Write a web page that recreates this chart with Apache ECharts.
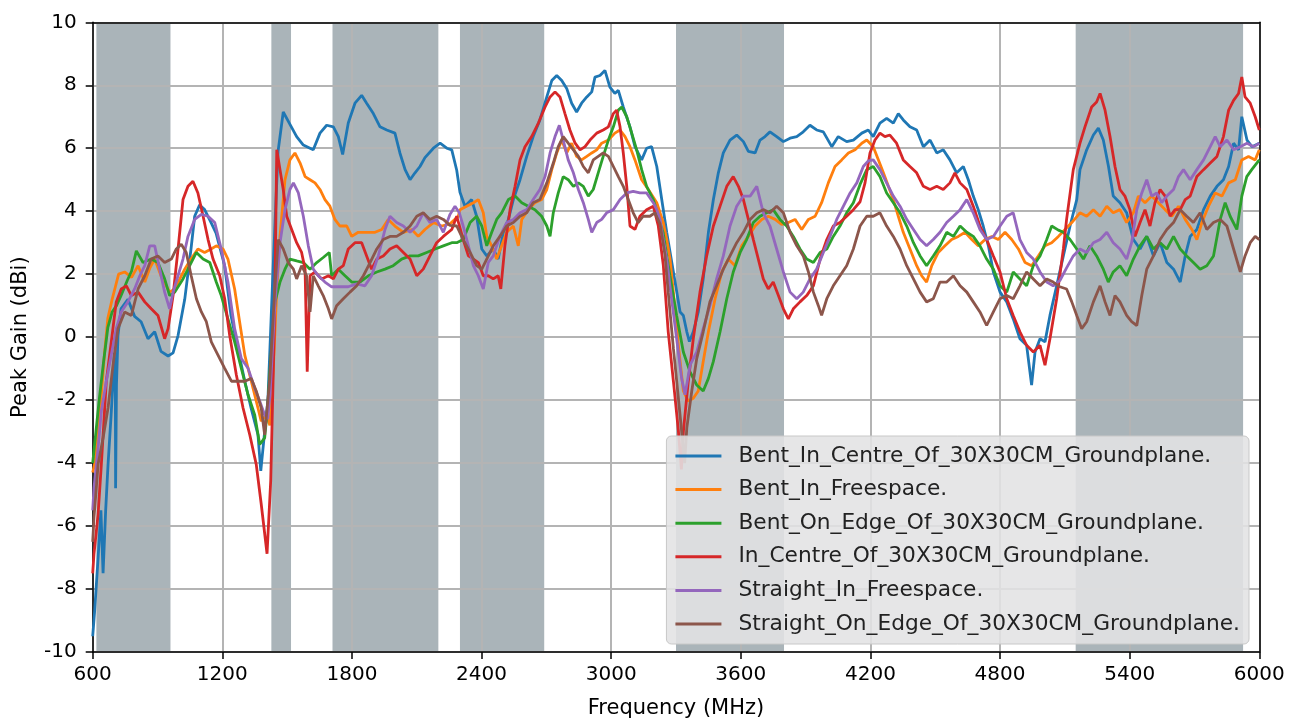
<!DOCTYPE html>
<html><head><meta charset="utf-8">
<script src="https://cdn.jsdelivr.net/npm/echarts@6/dist/echarts.min.js"></script>
<style>html,body{margin:0;padding:0;background:#fff}#c{width:1301px;height:724px}</style>
</head><body><div id="c"></div>
<script>
const seriesNames = [
  'Bent_In_Centre_Of_30X30CM_Groundplane.',
  'Bent_In_Freespace.',
  'Bent_On_Edge_Of_30X30CM_Groundplane.',
  'In_Centre_Of_30X30CM_Groundplane.',
  'Straight_In_Freespace.',
  'Straight_On_Edge_Of_30X30CM_Groundplane.'
];
const seriesColors = ['#1f77b4','#ff7f0e','#2ca02c','#d62728','#9467bd','#8c564b'];
const bands = [[617,960],[1427,1518],[1710,2200],[2300,2690],[3300,3800],[5150,5925]];
const xMin = 600, xMax = 6000, xStep = 600;
const yMin = -10, yMax = 10, yStep = 2;

const bentInCentre = [[600,-9.5],[609,-8.7],[625,-7.0],[638,-5.5],[648,-7.5],[660,-5.5],[671,-4.05],[685,-2.5],[694,-1.4],[700,-0.5],[705,-1.8],[706,-4.8],[710,-1.5],[717,0.05],[731,0.9],[763,1.2],[794,0.66],[824,0.49],[856,-0.05],[887,0.17],[916,-0.45],[949,-0.6],[972,-0.5],[995,0.05],[1026,1.2],[1055,2.8],[1072,3.84],[1095,4.2],[1118,4.05],[1148,3.64],[1171,3.3],[1211,2.26],[1240,0.69],[1272,-0.36],[1304,-1.4],[1333,-2.25],[1365,-3.1],[1378,-4.25],[1396,-3.0],[1411,-2.0],[1434,2.0],[1458,5.9],[1482,7.15],[1510,6.8],[1544,6.37],[1575,6.1],[1606,6.0],[1621,5.95],[1652,6.48],[1683,6.73],[1714,6.68],[1737,6.37],[1757,5.8],[1783,6.8],[1814,7.43],[1845,7.68],[1868,7.43],[1899,7.1],[1930,6.68],[1961,6.58],[1999,6.48],[2022,5.85],[2046,5.32],[2069,5.0],[2092,5.22],[2115,5.42],[2138,5.7],[2177,6.0],[2208,6.16],[2239,6.0],[2262,5.95],[2285,5.3],[2300,4.6],[2323,4.16],[2354,4.37],[2377,3.84],[2401,2.8],[2424,2.58],[2454,2.8],[2477,2.48],[2501,3.33],[2524,3.74],[2547,4.37],[2578,5.0],[2609,5.74],[2639,6.37],[2670,6.9],[2702,7.63],[2725,8.15],[2748,8.31],[2771,8.15],[2794,7.9],[2817,7.43],[2840,7.15],[2863,7.43],[2887,7.63],[2910,7.79],[2925,8.26],[2948,8.31],[2971,8.47],[2994,7.94],[3017,7.74],[3033,7.84],[3056,7.31],[3087,6.68],[3110,6.05],[3141,5.63],[3164,6.0],[3187,6.05],[3211,5.42],[3234,4.37],[3257,3.33],[3288,2.07],[3319,0.8],[3334,0.69],[3350,0.17],[3362,-0.14],[3380,0.17],[3403,0.8],[3426,1.85],[3450,3.33],[3473,4.37],[3496,5.22],[3519,5.85],[3550,6.26],[3581,6.42],[3612,6.21],[3635,5.9],[3666,5.85],[3689,6.26],[3712,6.37],[3735,6.52],[3766,6.37],[3797,6.21],[3828,6.32],[3859,6.37],[3889,6.52],[3920,6.73],[3951,6.58],[3982,6.52],[4021,6.05],[4051,6.37],[4090,6.21],[4121,6.26],[4160,6.48],[4190,6.58],[4213,6.37],[4244,6.8],[4275,6.95],[4306,6.8],[4329,7.1],[4352,6.9],[4383,6.68],[4414,6.58],[4445,6.05],[4476,6.26],[4507,5.85],[4537,5.95],[4568,5.63],[4599,5.22],[4630,5.42],[4653,5.0],[4676,4.48],[4699,4.05],[4722,3.53],[4746,2.9],[4769,2.07],[4800,1.43],[4831,1.12],[4861,0.58],[4892,-0.05],[4923,-0.26],[4946,-1.52],[4962,-0.47],[4985,-0.05],[5008,-0.15],[5031,0.69],[5062,1.63],[5093,2.58],[5124,3.53],[5155,4.37],[5170,5.32],[5201,5.95],[5232,6.42],[5255,6.64],[5278,6.26],[5302,5.42],[5324,4.48],[5355,4.27],[5386,3.95],[5417,3.1],[5448,2.8],[5479,3.2],[5510,2.58],[5541,3.0],[5572,2.37],[5603,2.16],[5634,1.75],[5657,2.58],[5680,3.2],[5711,3.42],[5742,4.05],[5773,4.48],[5804,4.79],[5834,5.0],[5858,5.42],[5881,6.16],[5904,5.95],[5919,7.0],[5943,6.26],[5966,6.05],[6000,6.16]];

const bentInFreespace = [[600,-4.3],[610,-4.0],[625,-3.0],[640,-1.8],[655,-0.5],[670,0.6],[690,1.2],[705,1.6],[720,2.0],[748,2.07],[780,1.9],[810,2.27],[841,1.75],[865,2.2],[887,2.48],[916,1.95],[956,1.43],[980,1.53],[1026,2.16],[1055,2.48],[1087,2.8],[1118,2.69],[1148,2.8],[1172,2.9],[1203,2.8],[1226,2.48],[1257,1.53],[1280,0.49],[1304,-0.57],[1334,-1.4],[1365,-2.25],[1380,-2.67],[1404,-2.47],[1420,-2.8],[1436,-1.0],[1452,1.5],[1467,3.2],[1490,5.0],[1513,5.63],[1536,5.85],[1560,5.53],[1583,5.1],[1606,5.0],[1629,4.9],[1652,4.69],[1675,4.37],[1698,4.16],[1721,3.74],[1744,3.53],[1776,3.53],[1799,3.2],[1829,3.33],[1868,3.33],[1907,3.33],[1938,3.42],[1968,3.74],[1999,3.53],[2038,3.33],[2077,3.42],[2107,3.2],[2138,3.42],[2177,3.64],[2215,3.53],[2254,3.6],[2292,3.84],[2300,4.05],[2331,4.16],[2362,4.27],[2385,4.37],[2408,3.95],[2424,3.2],[2447,2.9],[2470,2.48],[2493,2.9],[2516,3.33],[2547,3.53],[2570,2.9],[2586,3.74],[2616,4.05],[2647,4.27],[2678,4.37],[2702,4.69],[2725,5.32],[2748,5.85],[2771,6.26],[2794,5.85],[2817,6.16],[2840,5.74],[2863,5.63],[2887,5.74],[2910,5.85],[2933,5.95],[2956,6.16],[2987,6.26],[3017,6.48],[3041,6.58],[3064,6.37],[3087,6.05],[3110,5.63],[3141,5.0],[3172,4.69],[3211,4.27],[3241,3.64],[3257,3.1],[3272,2.5],[3288,1.43],[3311,-0.26],[3334,-1.71],[3357,-2.03],[3380,-1.94],[3403,-1.71],[3426,-0.77],[3450,0.17],[3481,1.22],[3512,2.07],[3542,2.48],[3573,2.27],[3604,2.9],[3635,3.2],[3666,3.53],[3697,3.74],[3727,3.84],[3759,3.74],[3789,3.58],[3820,3.64],[3851,3.74],[3882,3.42],[3913,3.74],[3944,3.84],[3974,4.27],[4005,4.9],[4036,5.42],[4067,5.63],[4098,5.85],[4129,5.95],[4160,6.16],[4183,6.26],[4213,6.05],[4237,5.63],[4260,5.22],[4283,4.79],[4306,4.37],[4329,3.84],[4352,3.33],[4383,2.8],[4414,2.27],[4437,1.95],[4460,1.75],[4484,2.27],[4514,2.69],[4545,2.9],[4576,3.1],[4607,3.2],[4638,3.33],[4669,3.1],[4699,2.9],[4731,3.1],[4762,3.2],[4792,3.1],[4823,3.33],[4854,3.1],[4885,2.8],[4916,2.37],[4946,2.27],[4977,2.58],[5008,2.9],[5039,3.0],[5070,3.2],[5101,3.42],[5132,3.64],[5170,3.95],[5201,3.84],[5232,4.05],[5263,3.84],[5294,4.16],[5324,3.95],[5355,4.05],[5386,3.64],[5417,3.95],[5440,4.48],[5471,4.27],[5502,4.48],[5533,4.27],[5564,4.05],[5595,3.84],[5626,4.16],[5657,3.74],[5688,3.42],[5711,3.1],[5734,3.64],[5765,4.16],[5796,4.58],[5827,4.48],[5858,4.9],[5889,5.0],[5919,5.63],[5950,5.74],[5981,5.63],[6000,5.95]];

const bentOnEdge = [[600,-4.0],[615,-3.0],[630,-2.0],[650,-0.8],[670,0.3],[690,0.8],[710,1.0],[730,1.3],[760,1.8],[780,2.1],[802,2.74],[833,2.37],[871,2.48],[902,2.37],[933,1.85],[956,1.32],[980,1.43],[1018,1.85],[1049,2.27],[1080,2.69],[1111,2.48],[1142,2.37],[1172,1.75],[1195,1.32],[1226,0.58],[1257,-0.15],[1288,-0.99],[1319,-1.83],[1350,-2.47],[1373,-3.41],[1396,-3.2],[1410,-2.2],[1421,-1.0],[1444,1.12],[1467,1.75],[1490,2.16],[1513,2.48],[1544,2.42],[1575,2.37],[1606,2.16],[1637,2.37],[1667,2.53],[1695,2.69],[1706,1.95],[1737,2.16],[1768,1.95],[1799,1.75],[1837,1.75],[1876,1.95],[1915,2.07],[1953,2.16],[1991,2.27],[2030,2.48],[2069,2.58],[2107,2.58],[2146,2.69],[2185,2.8],[2223,2.9],[2262,3.0],[2285,3.0],[2315,3.1],[2347,3.64],[2377,3.84],[2401,3.53],[2424,2.9],[2447,3.33],[2470,3.74],[2493,3.95],[2524,4.37],[2555,4.48],[2586,4.27],[2616,4.16],[2647,4.05],[2678,3.84],[2702,3.53],[2717,3.2],[2732,3.95],[2755,4.58],[2778,5.1],[2801,5.0],[2825,4.79],[2848,4.9],[2871,4.79],[2894,4.48],[2917,4.69],[2940,5.22],[2963,5.74],[2987,6.26],[3010,6.68],[3033,7.21],[3049,7.31],[3072,7.0],[3095,6.48],[3118,5.95],[3141,5.32],[3164,4.79],[3195,4.37],[3218,3.84],[3241,3.3],[3272,1.95],[3303,0.69],[3334,-0.47],[3365,-1.1],[3396,-1.52],[3426,-1.71],[3450,-1.31],[3473,-0.77],[3504,0.17],[3535,1.22],[3565,2.07],[3597,2.69],[3627,3.1],[3658,3.64],[3689,3.84],[3720,3.95],[3750,4.05],[3781,3.74],[3812,3.53],[3843,3.2],[3874,2.8],[3905,2.48],[3936,2.37],[3967,2.69],[3998,2.8],[4028,3.2],[4059,3.53],[4090,3.95],[4121,4.27],[4152,4.85],[4183,5.32],[4213,5.42],[4244,5.1],[4275,4.58],[4306,4.27],[4337,3.95],[4368,3.53],[4399,3.0],[4430,2.58],[4460,2.27],[4491,2.58],[4522,2.9],[4553,3.33],[4584,3.2],[4615,3.53],[4646,3.33],[4676,3.2],[4707,2.9],[4738,2.48],[4769,2.16],[4800,1.63],[4831,1.43],[4861,2.07],[4892,1.85],[4923,1.63],[4954,2.27],[4985,2.58],[5016,3.1],[5039,3.53],[5070,3.4],[5093,3.33],[5124,3.1],[5155,2.8],[5186,2.48],[5216,2.9],[5247,2.58],[5278,2.16],[5301,1.75],[5324,2.07],[5355,2.27],[5386,1.95],[5417,2.48],[5448,2.9],[5479,3.2],[5510,2.8],[5541,3.0],[5572,2.8],[5603,3.2],[5634,2.8],[5664,2.58],[5695,2.37],[5726,2.16],[5757,2.27],[5788,2.58],[5819,3.74],[5842,4.27],[5865,3.84],[5896,3.42],[5919,4.48],[5942,5.1],[5965,5.32],[6000,5.63]];

const inCentre = [[600,-7.5],[606,-6.88],[625,-5.62],[640,-4.04],[663,-1.4],[686,-0.15],[709,1.12],[732,1.53],[756,1.63],[779,1.32],[810,1.43],[841,1.12],[871,0.9],[902,0.69],[933,-0.05],[949,0.27],[972,1.32],[995,2.8],[1018,4.37],[1041,4.79],[1064,4.95],[1087,4.58],[1111,3.84],[1134,3.1],[1157,2.48],[1188,1.95],[1211,1.22],[1234,0.06],[1265,-1.2],[1296,-2.25],[1327,-3.1],[1357,-4.04],[1380,-5.3],[1407,-6.88],[1424,-4.56],[1442,0.69],[1452,5.95],[1467,5.32],[1482,4.69],[1498,3.84],[1521,3.42],[1544,3.0],[1567,2.69],[1583,2.16],[1593,-1.1],[1606,1.95],[1629,2.07],[1660,1.85],[1691,1.95],[1714,1.85],[1737,2.16],[1760,2.27],[1783,2.8],[1814,3.0],[1845,3.0],[1868,2.58],[1891,2.16],[1915,2.48],[1945,2.58],[1976,2.8],[2007,2.9],[2038,2.69],[2069,2.48],[2100,1.95],[2130,2.16],[2161,2.58],[2192,3.0],[2223,3.2],[2262,3.42],[2285,3.84],[2315,3.1],[2339,2.58],[2362,2.48],[2385,2.37],[2408,1.95],[2431,1.95],[2454,1.85],[2477,1.95],[2489,1.53],[2508,2.9],[2532,4.05],[2555,4.79],[2578,5.63],[2601,6.05],[2632,6.37],[2663,6.8],[2694,7.31],[2717,7.63],[2740,7.79],[2763,7.63],[2786,7.1],[2809,6.58],[2833,6.16],[2856,5.95],[2879,6.05],[2902,6.26],[2933,6.48],[2963,6.58],[2987,6.68],[3010,7.1],[3025,7.21],[3041,6.68],[3056,5.85],[3072,4.79],[3087,3.53],[3110,3.42],[3133,3.84],[3164,4.05],[3195,4.16],[3218,3.53],[3241,2.3],[3264,0.17],[3288,-1.4],[3311,-2.98],[3325,-4.2],[3334,-3.0],[3357,-1.4],[3380,-0.05],[3411,1.43],[3442,2.58],[3473,3.53],[3504,4.16],[3535,4.79],[3565,5.1],[3589,4.79],[3612,4.37],[3635,3.74],[3658,3.1],[3681,2.48],[3704,1.85],[3727,1.53],[3750,1.75],[3774,1.32],[3797,0.9],[3820,0.58],[3843,0.9],[3874,1.12],[3905,1.32],[3936,1.63],[3967,2.48],[3998,3.1],[4028,3.53],[4059,3.64],[4090,3.84],[4121,4.05],[4152,4.3],[4175,4.9],[4198,5.85],[4221,6.26],[4244,6.48],[4267,6.37],[4290,6.42],[4321,6.16],[4352,5.63],[4383,5.42],[4414,5.22],[4445,4.79],[4476,4.69],[4507,4.79],[4537,4.69],[4568,4.9],[4591,5.22],[4615,4.9],[4646,4.69],[4676,4.16],[4707,3.53],[4738,3.1],[4769,2.58],[4800,2.07],[4831,1.22],[4861,0.69],[4892,0.17],[4923,-0.26],[4954,-0.47],[4985,-0.26],[5008,-0.89],[5031,-0.05],[5062,1.22],[5093,2.8],[5108,3.74],[5139,5.32],[5170,6.16],[5193,6.68],[5224,7.31],[5247,7.47],[5263,7.74],[5286,7.21],[5309,6.37],[5332,5.42],[5355,4.69],[5378,4.48],[5401,4.05],[5425,3.2],[5448,3.64],[5471,4.05],[5494,3.53],[5517,4.27],[5541,4.69],[5564,4.48],[5587,3.84],[5610,4.05],[5634,4.05],[5657,4.37],[5680,4.48],[5711,5.1],[5742,5.32],[5773,5.53],[5804,5.74],[5834,6.37],[5858,7.21],[5881,7.52],[5904,7.74],[5919,8.26],[5934,7.63],[5958,7.43],[5981,7.0],[6000,6.58]];

const straightInFreespace = [[600,-5.5],[606,-4.78],[625,-3.52],[640,-2.35],[663,-1.4],[686,-0.57],[709,0.27],[732,0.8],[763,1.12],[794,1.53],[818,1.95],[841,2.27],[864,2.9],[887,2.9],[910,2.16],[933,1.43],[956,0.9],[972,1.43],[995,1.95],[1018,2.48],[1041,3.2],[1072,3.74],[1103,3.9],[1134,3.84],[1165,3.64],[1195,2.8],[1226,1.75],[1257,0.27],[1288,-0.68],[1319,-0.99],[1350,-1.62],[1373,-2.03],[1396,-2.47],[1410,-2.6],[1421,-1.83],[1444,1.12],[1467,3.0],[1490,4.05],[1513,4.69],[1529,4.9],[1552,4.58],[1575,3.84],[1598,2.9],[1621,2.16],[1644,1.95],[1675,1.75],[1706,1.6],[1745,1.6],[1783,1.6],[1822,1.69],[1860,1.63],[1891,1.95],[1922,2.58],[1953,3.42],[1976,3.84],[2007,3.64],[2038,3.53],[2069,3.33],[2100,3.53],[2130,3.95],[2161,3.64],[2192,3.74],[2223,3.33],[2254,3.9],[2277,4.16],[2297,3.95],[2315,3.53],[2339,2.9],[2362,2.27],[2385,1.95],[2408,1.53],[2431,2.37],[2454,2.58],[2485,3.2],[2516,3.64],[2547,3.74],[2578,3.95],[2609,4.05],[2639,4.37],[2670,4.69],[2694,5.1],[2717,5.85],[2740,6.37],[2760,6.73],[2778,6.26],[2801,5.63],[2825,5.22],[2848,4.69],[2871,4.27],[2894,3.74],[2910,3.33],[2933,3.64],[2956,3.74],[2979,3.95],[3010,4.05],[3041,4.37],[3072,4.58],[3102,4.63],[3133,4.58],[3164,4.58],[3195,4.27],[3211,4.05],[3226,3.74],[3241,3.1],[3257,2.5],[3272,1.63],[3303,-0.05],[3326,-1.31],[3342,-1.83],[3365,-0.89],[3396,-0.47],[3426,0.27],[3457,1.0],[3488,1.85],[3519,2.58],[3550,3.53],[3581,4.16],[3612,4.48],[3643,4.48],[3674,4.79],[3704,3.95],[3735,3.53],[3766,2.8],[3797,2.07],[3828,1.43],[3859,1.22],[3889,1.43],[3920,1.85],[3951,2.16],[3982,2.69],[4013,3.2],[4044,3.74],[4075,4.16],[4106,4.58],[4137,4.9],[4167,5.42],[4190,5.6],[4213,5.63],[4244,5.32],[4275,4.9],[4306,4.48],[4337,4.16],[4368,3.74],[4399,3.42],[4430,3.1],[4460,2.9],[4491,3.1],[4522,3.33],[4553,3.64],[4584,3.84],[4615,4.05],[4646,4.37],[4676,3.95],[4707,3.42],[4738,3.1],[4769,3.2],[4800,3.53],[4831,3.84],[4861,3.95],[4892,3.1],[4923,2.69],[4954,2.48],[4985,2.07],[5016,1.75],[5046,1.63],[5077,1.8],[5108,2.2],[5139,2.58],[5170,2.8],[5201,2.69],[5232,3.0],[5263,3.1],[5294,3.33],[5324,3.0],[5355,2.8],[5386,2.48],[5409,3.0],[5433,4.05],[5456,4.58],[5479,5.0],[5502,4.48],[5525,4.58],[5548,4.27],[5572,4.48],[5603,4.69],[5626,5.1],[5649,5.32],[5680,5.0],[5711,5.32],[5742,5.63],[5773,6.05],[5796,6.37],[5819,6.05],[5850,6.26],[5881,5.95],[5912,6.05],[5943,6.16],[5974,6.05],[6000,6.16]];

const straightOnEdge = [[600,-6.5],[606,-5.73],[625,-4.04],[648,-3.2],[671,-2.25],[694,-0.89],[717,0.27],[748,0.8],[779,0.69],[810,1.53],[841,1.95],[871,2.48],[902,2.58],[933,2.37],[964,2.48],[987,2.8],[1010,2.95],[1033,2.69],[1056,1.95],[1080,1.22],[1103,0.8],[1126,0.49],[1149,-0.15],[1180,-0.57],[1211,-0.99],[1242,-1.4],[1273,-1.4],[1304,-1.4],[1334,-1.31],[1357,-1.71],[1380,-2.25],[1396,-3.1],[1419,-1.4],[1442,1.43],[1459,3.1],[1482,2.8],[1505,2.37],[1529,2.16],[1544,1.85],[1567,2.27],[1590,1.95],[1606,0.8],[1621,1.95],[1644,1.63],[1667,1.32],[1691,0.9],[1706,0.58],[1729,1.0],[1760,1.22],[1791,1.43],[1822,1.63],[1853,1.95],[1884,2.37],[1915,2.8],[1945,3.1],[1976,3.2],[2007,3.2],[2038,3.33],[2069,3.53],[2100,3.84],[2130,3.95],[2161,3.74],[2192,3.84],[2223,3.74],[2254,3.55],[2285,3.53],[2315,3.1],[2347,2.69],[2377,2.27],[2401,2.16],[2424,2.48],[2454,2.9],[2485,3.2],[2516,3.53],[2547,3.64],[2578,3.84],[2609,3.95],[2639,4.27],[2670,4.37],[2702,4.9],[2732,5.53],[2755,6.05],[2778,6.37],[2801,6.16],[2825,5.95],[2848,5.74],[2871,5.42],[2894,5.22],[2917,5.63],[2940,5.74],[2963,5.85],[2987,5.74],[3010,5.42],[3033,5.1],[3056,4.79],[3079,4.37],[3102,3.95],[3125,3.64],[3148,3.84],[3179,3.84],[3202,3.95],[3226,3.6],[3249,2.6],[3264,1.43],[3288,-0.36],[3311,-1.94],[3326,-2.98],[3340,-4.0],[3350,-2.88],[3373,-1.71],[3396,-0.68],[3426,0.17],[3457,1.12],[3488,1.63],[3519,2.16],[3550,2.58],[3581,3.0],[3612,3.33],[3643,3.74],[3674,3.95],[3704,4.05],[3735,3.95],[3766,4.16],[3797,3.95],[3828,3.33],[3859,2.9],[3889,2.58],[3913,2.07],[3936,1.43],[3959,1.0],[3974,0.69],[3998,1.22],[4028,1.63],[4059,1.95],[4090,2.27],[4121,2.8],[4152,3.53],[4183,3.84],[4213,3.84],[4244,3.95],[4275,3.53],[4306,3.2],[4337,2.8],[4368,2.27],[4399,1.85],[4430,1.43],[4460,1.12],[4491,1.22],[4522,1.75],[4553,1.75],[4584,1.95],[4615,1.63],[4646,1.43],[4676,1.12],[4707,0.8],[4738,0.37],[4769,0.8],[4800,1.22],[4831,1.32],[4861,1.22],[4892,1.63],[4923,2.07],[4954,1.85],[4985,1.63],[5016,1.85],[5046,1.75],[5077,1.6],[5108,1.53],[5132,1.12],[5155,0.69],[5178,0.27],[5201,0.49],[5232,1.12],[5263,1.63],[5286,1.12],[5309,0.69],[5332,1.32],[5355,1.12],[5386,0.69],[5409,0.49],[5433,0.37],[5456,1.32],[5479,2.16],[5510,2.58],[5541,3.1],[5572,3.42],[5603,3.64],[5634,4.05],[5664,3.84],[5695,3.64],[5726,3.95],[5757,3.42],[5788,3.64],[5819,3.74],[5850,3.53],[5881,2.8],[5912,2.07],[5934,2.58],[5958,3.0],[5981,3.2],[6000,3.1]];

const seriesData = [bentInCentre, bentInFreespace, bentOnEdge, inCentre, straightInFreespace, straightOnEdge];

const FONT = 'DejaVu Sans';
const chart = echarts.init(document.getElementById('c'), null, {renderer: 'canvas'});

const lineSeries = seriesNames.map((name, i) => ({
  name: name,
  type: 'line',
  data: seriesData[i],
  showSymbol: false,
  symbol: 'none',
  color: seriesColors[i],
  lineStyle: {width: 2.8, color: seriesColors[i]},
  z: 3 + i,
  clip: true,
  animation: false
}));

const bandSeries = {
  type: 'line',
  data: [],
  z: 1,
  silent: true,
  animation: false,
  markArea: {
    silent: true,
    itemStyle: {color: '#aab4b9'},
    data: bands.map(b => [{xAxis: b[0]}, {xAxis: b[1]}])
  }
};

chart.setOption({
  backgroundColor: '#ffffff',
  animation: false,
  textStyle: {fontFamily: FONT},
  grid: {left: 92.7, right: 41.7, top: 22.3, bottom: 69, containLabel: false},
  xAxis: [{
    type: 'value', min: xMin, max: xMax, interval: xStep, z: 1.5,
    name: 'Frequency (MHz)', nameLocation: 'middle', nameGap: 46,
    nameTextStyle: {fontSize: 21, color: '#000', fontFamily: FONT},
    axisLine: {show: true, onZero: false, lineStyle: {color: '#000', width: 1.5}},
    axisTick: {show: true, inside: false, length: 7, lineStyle: {color: '#000', width: 1.5}},
    axisLabel: {fontSize: 20, color: '#000', margin: 13, fontFamily: FONT, formatter: v => String(v)},
    splitLine: {show: true, lineStyle: {color: '#b4b4b4', width: 2}}
  }, {
    type: 'value', position: 'top', min: xMin, max: xMax, interval: xStep, z: 1.5,
    axisLine: {show: true, onZero: false, lineStyle: {color: '#000', width: 1.5}},
    axisTick: {show: false}, axisLabel: {show: false}, splitLine: {show: false}
  }],
  yAxis: [{
    type: 'value', min: yMin, max: yMax, interval: yStep, z: 1.5,
    name: 'Peak Gain (dBi)', nameLocation: 'middle', nameGap: 62,
    nameTextStyle: {fontSize: 21, color: '#000', fontFamily: FONT},
    axisLine: {show: true, onZero: false, lineStyle: {color: '#000', width: 1.5}},
    axisTick: {show: true, inside: false, length: 7, lineStyle: {color: '#000', width: 1.5}},
    axisLabel: {fontSize: 20, color: '#000', margin: 16, fontFamily: FONT, formatter: v => String(v)},
    splitLine: {show: true, lineStyle: {color: '#b4b4b4', width: 2}}
  }, {
    type: 'value', position: 'right', min: yMin, max: yMax, interval: yStep, z: 1.5,
    axisLine: {show: true, onZero: false, lineStyle: {color: '#000', width: 1.5}},
    axisTick: {show: false}, axisLabel: {show: false}, splitLine: {show: false}
  }],
  legend: {
    data: seriesNames,
    orient: 'vertical',
    right: 52, bottom: 80,
    icon: 'rect',
    itemWidth: 46, itemHeight: 3,
    itemGap: 9.6,
    textStyle: {fontFamily: FONT, fontSize: 21.7, color: '#222', lineHeight: 24, padding: [0, 0, 0, 12]},
    backgroundColor: 'rgba(226,227,228,0.88)',
    borderColor: '#c8c8c8', borderWidth: 1, borderRadius: 5,
    padding: [8, 9, 8, 9],
    z: 20
  },
  series: [bandSeries].concat(lineSeries)
});
</script>
</body></html>
